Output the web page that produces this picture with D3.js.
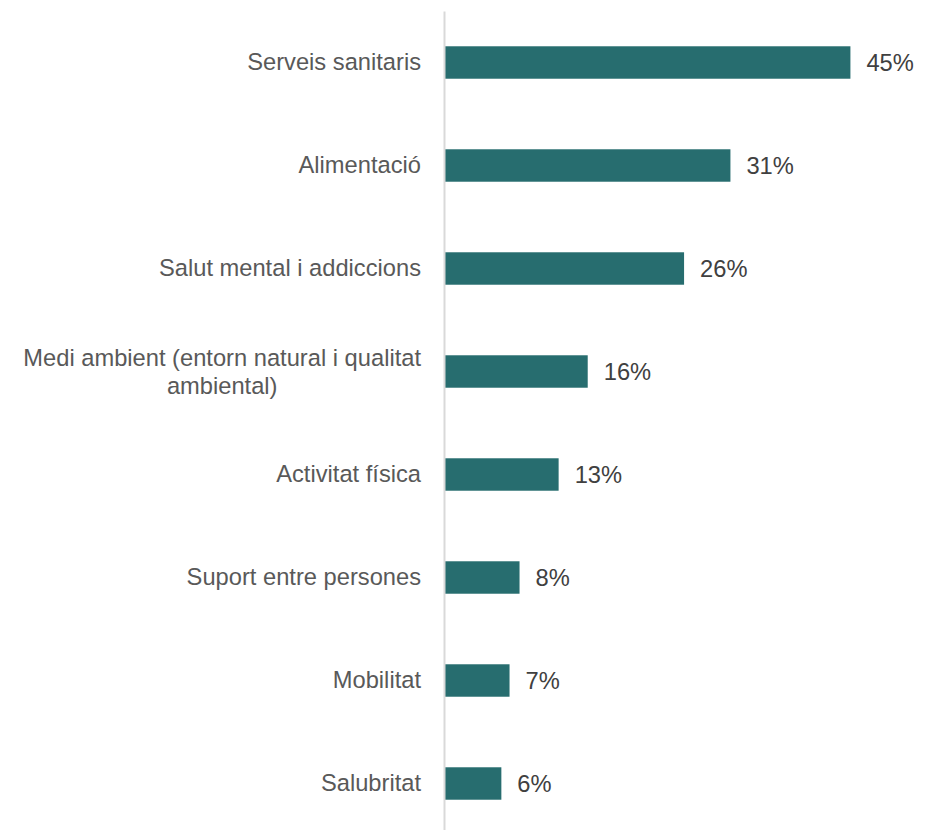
<!DOCTYPE html>
<html>
<head>
<meta charset="utf-8">
<script src="https://cdn.jsdelivr.net/npm/d3@7"></script>
<style>
  html, body { margin: 0; padding: 0; background: #fff; }
  svg { display: block; }
</style>
</head>
<body>
<svg id="chart" width="932" height="830"></svg>
<script>
const categories = [
  "Serveis sanitaris",
  "Alimentació",
  "Salut mental i addiccions",
  "Medi ambient (entorn natural i qualitat ambiental)",
  "Activitat física",
  "Suport entre persones",
  "Mobilitat",
  "Salubritat"
];
const values = [44.6, 31.4, 26.3, 15.7, 12.5, 8.2, 7.1, 6.2];
const xDomain = [0, 50];

const data = categories.map((c, i) => ({ cat: c, val: values[i] }));

const svg = d3.select("#chart");
const font = "'Liberation Sans', Arial, sans-serif";
const fontSize = 23.7;

const x = d3.scaleLinear().domain(xDomain).range([445, 445 + 454.5]);
const y = d3.scaleBand().domain(categories).range([11, 835])
  .paddingInner(0.685).paddingOuter(0.3425);

// bars
svg.append("g").selectAll("rect").data(data).join("rect")
  .attr("x", x(0))
  .attr("y", d => y(d.cat))
  .attr("width", d => x(d.val) - x(0))
  .attr("height", y.bandwidth())
  .attr("fill", "#276d6f");

// value labels
svg.append("g").selectAll("text").data(data).join("text")
  .attr("x", d => x(d.val) + 16)
  .attr("y", d => y(d.cat) + y.bandwidth() / 2)
  .attr("dy", "0.35em")
  .attr("font-family", font)
  .attr("font-size", fontSize)
  .attr("fill", "#404040")
  .text(d => Math.round(d.val) + "%");

// axis
const axis = d3.axisLeft(y).tickSize(0).tickPadding(23).tickSizeOuter(0);
const gAxis = svg.append("g").attr("transform", "translate(444,0)").call(axis);
gAxis.select(".domain").attr("stroke", "#d9d9d9").attr("stroke-width", 2);
gAxis.selectAll(".tick text")
  .attr("font-family", font)
  .attr("font-size", fontSize)
  .attr("fill", "#595959");

// wrap long labels (centered block, right-aligned to axis)
const maxW = 415;
const lineH = 27.5;
gAxis.selectAll(".tick text").each(function() {
  const t = d3.select(this);
  const words = t.text().split(/\s+/);
  t.text(null);
  const lines = [];
  let cur = [];
  const probe = t.append("tspan");
  words.forEach(w => {
    cur.push(w);
    probe.text(cur.join(" "));
    if (probe.node().getComputedTextLength() > maxW && cur.length > 1) {
      cur.pop();
      lines.push(cur.join(" "));
      cur = [w];
    }
  });
  lines.push(cur.join(" "));
  probe.remove();
  if (lines.length === 1) {
    t.text(lines[0]);
    return;
  }
  const widths = lines.map(l => {
    const s = t.append("tspan").text(l);
    const w = s.node().getComputedTextLength();
    s.remove();
    return w;
  });
  const maxLine = d3.max(widths);
  const cx = -23 - maxLine / 2;
  t.attr("text-anchor", "middle").attr("dy", null);
  const y0 = -(lines.length - 1) * lineH / 2;
  lines.forEach((l, i) => {
    t.append("tspan")
      .attr("x", cx)
      .attr("y", y0 + i * lineH)
      .attr("dy", "0.35em")
      .text(l);
  });
});
</script>
</body>
</html>
